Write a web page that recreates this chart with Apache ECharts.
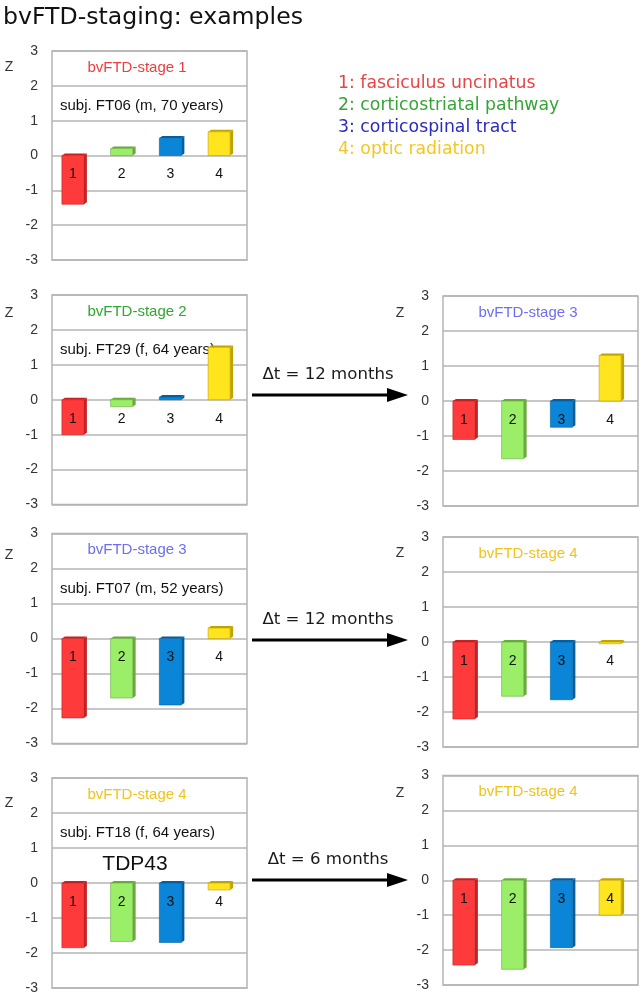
<!DOCTYPE html>
<html>
<head>
<meta charset="utf-8">
<script src="https://cdn.jsdelivr.net/npm/echarts@6/dist/echarts.min.js"></script>
<style>
html,body{margin:0;padding:0;background:#fff;}
#chart{width:642px;height:997px;}
</style>
</head>
<body>
<div id="chart"></div>
<script>
// ---------- data ----------
const categories = ['1', '2', '3', '4'];
const yTicks = [-3, -2, -1, 0, 1, 2, 3];
const mainTitle = 'bvFTD-staging: examples';
const legendLabels = ['1: fasciculus uncinatus', '2: corticostriatal pathway', '3: corticospinal tract', '4: optic radiation'];
const stageTitles = ['bvFTD-stage 1', 'bvFTD-stage 2', 'bvFTD-stage 3', 'bvFTD-stage 3', 'bvFTD-stage 4', 'bvFTD-stage 4', 'bvFTD-stage 4'];
const stageOfPanel = [1, 2, 3, 3, 4, 4, 4];
const subjectLabels = ['subj. FT06 (m, 70 years)', 'subj. FT29 (f, 64 years)', '', 'subj. FT07 (m, 52 years)', '', 'subj. FT18 (f, 64 years)', ''];
const extraLabels = ['', '', '', '', '', 'TDP43', ''];
const arrowLabels = ['\u0394t = 12 months', '\u0394t = 12 months', '\u0394t = 6 months'];

const ft06 = [-1.4, 0.2, 0.5, 0.68];
const ft29Before = [-1.0, -0.2, 0.08, 1.5];
const ft29After = [-1.1, -1.65, -0.75, 1.3];
const ft07Before = [-2.27, -1.7, -1.9, 0.3];
const ft07After = [-2.2, -1.55, -1.65, -0.05];
const ft18Before = [-1.85, -1.67, -1.7, -0.2];
const ft18After = [-2.43, -2.55, -1.93, -1.0];
const panelValues = [ft06, ft29Before, ft29After, ft07Before, ft07After, ft18Before, ft18After];

// ---------- layout / style ----------
const LEFT_COL = 52, RIGHT_COL = 443, PANEL_W = 195;
const panelLayout = [
  {left: LEFT_COL, top: 51, height: 209, zOff: 16},
  {left: LEFT_COL, top: 295, height: 209.5, zOff: 18},
  {left: RIGHT_COL, top: 296, height: 210, zOff: 17},
  {left: LEFT_COL, top: 533.5, height: 210, zOff: 22},
  {left: RIGHT_COL, top: 537, height: 210, zOff: 16},
  {left: LEFT_COL, top: 778, height: 210, zOff: 25},
  {left: RIGHT_COL, top: 775.5, height: 209.5, zOff: 18}
];
const arrowRows = [{y: 395}, {y: 640}, {y: 880}];
const faceColors = ['#ff3a3a', '#9bef68', '#0a85d8', '#ffe41e'];
const sideColors = ['#c22222', '#6aa93c', '#055f9e', '#c1a300'];
const legendColors = ['#e84444', '#35a535', '#2b2bbd', '#f5c623'];
const stageColors = {1: '#ee3d3d', 2: '#2fa82f', 3: '#6e6ef0', 4: '#f2c21e'};
const GRID_COLOR = '#b4b4b4';
const CHART_FONT = '"Liberation Sans", Arial, sans-serif';
const SLIDE_FONT = '"DejaVu Sans", sans-serif';

const chart = echarts.init(document.getElementById('chart'), null, {renderer: 'canvas'});

const grids = [], xAxes = [], yAxes = [], series = [], graphics = [];

function renderBar(params, api) {
  const idx = api.value(0);
  const v = api.value(1);
  const base = api.coord([idx, 0]);
  const end = api.coord([idx, v]);
  const cx = base[0];
  const w = 22, d = 3, dy = 2;
  const x0 = cx - 14.5, x1 = x0 + w;
  const yTop = Math.min(base[1], end[1]);
  const yBot = Math.max(base[1], end[1]);
  const face = faceColors[idx], side = sideColors[idx];
  return {
    type: 'group',
    children: [
      {type: 'polygon', shape: {points: [[x1, yTop], [x1 + d, yTop - dy], [x1 + d, yBot - dy], [x1, yBot]]},
        style: {fill: side}},
      {type: 'polygon', shape: {points: [[x0, yTop], [x0 + d, yTop - dy], [x1 + d, yTop - dy], [x1, yTop]]},
        style: {fill: side}},
      {type: 'rect', shape: {x: x0, y: yTop, width: w, height: Math.max(yBot - yTop, 1)},
        style: {fill: face, stroke: side, lineWidth: 0.6}},
      {type: 'text', x: x0 + w / 2, y: base[1] + 19,
        style: {text: categories[idx], fill: '#111', font: '14px ' + CHART_FONT, align: 'center', verticalAlign: 'middle'}}
    ]
  };
}

panelLayout.forEach((p, i) => {
  grids.push({left: p.left, top: p.top, width: PANEL_W, height: p.height, show: true,
    backgroundColor: '#fff', borderColor: GRID_COLOR, borderWidth: 1.5, containLabel: false});
  xAxes.push({type: 'category', gridIndex: i, data: categories, boundaryGap: true,
    axisLine: {show: false}, axisTick: {show: false}, axisLabel: {show: false}, splitLine: {show: false}});
  yAxes.push({type: 'value', gridIndex: i, min: yTicks[0], max: yTicks[yTicks.length - 1], interval: 1,
    axisLine: {show: false}, axisTick: {show: false},
    axisLabel: {color: '#333', fontSize: 14, fontFamily: CHART_FONT, margin: 14},
    splitLine: {show: true, lineStyle: {color: GRID_COLOR, width: 1.5}}});
  series.push({type: 'custom', xAxisIndex: i, yAxisIndex: i, renderItem: renderBar,
    encode: {x: 0, y: 1},
    data: panelValues[i].map((v, k) => [k, v])});

  // Z label
  graphics.push({type: 'text', x: p.left - 43, y: p.top + p.zOff,
    style: {text: 'Z', fill: '#333', font: '14px ' + CHART_FONT, align: 'center', verticalAlign: 'middle'}});
  // stage title
  graphics.push({type: 'text', x: p.left + 85, y: p.top + 16.5,
    style: {text: stageTitles[i], fill: stageColors[stageOfPanel[i]], font: '15px ' + CHART_FONT, align: 'center', verticalAlign: 'middle'}});
  if (subjectLabels[i]) {
    graphics.push({type: 'text', x: p.left + 8, y: p.top + 55,
      style: {text: subjectLabels[i], fill: '#111', font: '15px ' + CHART_FONT, align: 'left', verticalAlign: 'middle'}});
  }
  if (extraLabels[i]) {
    graphics.push({type: 'text', x: p.left + 83, y: p.top + 86,
      style: {text: extraLabels[i], fill: '#111', font: '21px ' + CHART_FONT, align: 'center', verticalAlign: 'middle'}});
  }
});

// main title
graphics.push({type: 'text', x: 3, y: 18,
  style: {text: mainTitle, fill: '#111', font: '23.6px ' + SLIDE_FONT, align: 'left', verticalAlign: 'middle'}});

// region legend
legendLabels.forEach((t, k) => {
  graphics.push({type: 'text', x: 338, y: 84 + k * 21.7,
    style: {text: t, fill: legendColors[k], font: '17.3px ' + SLIDE_FONT, align: 'left', verticalAlign: 'middle'}});
});

// time arrows
arrowRows.forEach((r, k) => {
  graphics.push({type: 'line', shape: {x1: 252, y1: r.y, x2: 390, y2: r.y}, style: {stroke: '#000', lineWidth: 3}});
  graphics.push({type: 'polygon', shape: {points: [[387, r.y - 7], [408, r.y], [387, r.y + 7]]}, style: {fill: '#000'}});
  graphics.push({type: 'text', x: 328, y: r.y - 20,
    style: {text: arrowLabels[k], fill: '#1a1a1a', font: '16.6px ' + SLIDE_FONT, align: 'center', verticalAlign: 'middle'}});
});

chart.setOption({
  animation: false,
  backgroundColor: '#fff',
  grid: grids,
  xAxis: xAxes,
  yAxis: yAxes,
  series: series,
  graphic: graphics
});
</script>
</body>
</html>
